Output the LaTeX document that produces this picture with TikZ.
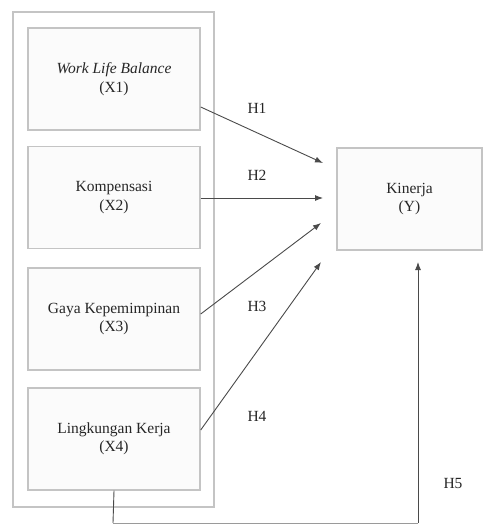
\documentclass[tikz,border=0pt]{standalone}
\usepackage{fontspec}
\setmainfont{Liberation Serif}
\usetikzlibrary{calc,arrows.meta}
\definecolor{boxgray}{HTML}{C4C4C4}
\definecolor{linegray}{HTML}{4A4A4A}
\definecolor{palegray}{HTML}{9A9A9A}
\begin{document}
\begin{tikzpicture}[x=1pt,y=-1pt,
  varbox/.style={draw=boxgray,line width=1.4pt,fill=white!98.5!black,minimum width=172pt,minimum height=102pt,inner sep=0pt,align=center,font=\rmfamily\fontsize{15.5}{18.5}\selectfont,text=black!85},
  conn/.style={draw=linegray,line width=0.9pt,-{Latex[length=8pt,width=6pt]}},
  hlab/.style={font=\rmfamily\fontsize{15.5}{18.5}\selectfont,text=black!85,inner sep=0pt}]
\useasboundingbox (0,0) rectangle (483,527);
% outer frame
\node[draw=boxgray,line width=1.4pt,minimum width=201pt,minimum height=495pt,inner sep=0pt] (outer) at (113.5,259.5) {};
\node[varbox] (b1) at (114,79) {\textit{Work Life Balance}\\(X1)};
\node[varbox] (b2) at (114,197.5) {Kompensasi\\(X2)};
\node[varbox] (b3) at (114,319) {Gaya Kepemimpinan\\(X3)};
\node[varbox] (b4) at (114,439) {Lingkungan Kerja\\(X4)};
\node[varbox,minimum width=145pt] (y) at (409.5,199) {Kinerja\\(Y)};
% arrow end points
\coordinate (t1) at (323,163);
\coordinate (t2) at (323,198);
\coordinate (t3) at (321,223);
\coordinate (t4) at (321,262);
\coordinate (t5) at (418,262);
\coordinate (c1) at (113,523);
\coordinate (c2) at (418,523);
\draw[conn] ($(b1.east)+(0,28)$) -- (t1);
\draw[conn] ($(b2.east)+(0,0.5)$) -- (t2);
\draw[conn] ($(b3.east)+(0,-5)$) -- (t3);
\draw[conn] ($(b4.east)+(0,-9)$) -- (t4);
\draw[draw=linegray,line width=0.9pt] (b4.south) -- (c1);
\draw[draw=palegray,line width=0.8pt] (c1) -- (c2);
\draw[conn] (c2) -- (t5);
\node[hlab] (h1) at (257,108) {H1};
\node[hlab] (h2) at (257,175) {H2};
\node[hlab] (h3) at (257,306) {H3};
\node[hlab] (h4) at (257,416) {H4};
\node[hlab] (h5) at (453,483) {H5};
\end{tikzpicture}
\end{document}
